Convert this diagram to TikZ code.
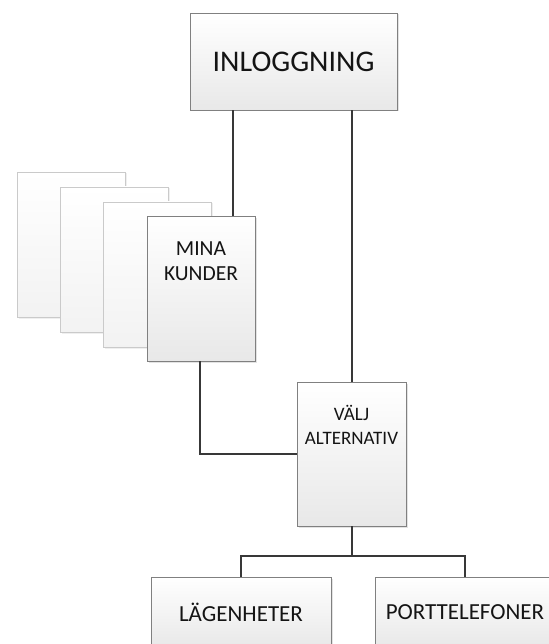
\documentclass[tikz,border=0pt]{standalone}
\usepackage{fontspec}
\setmainfont{Carlito}
\usepackage{tikz}
\usetikzlibrary{positioning,shadows}
\definecolor{rim}{HTML}{808080}
\definecolor{paperrim}{HTML}{CACACA}
\definecolor{wire}{HTML}{383838}
\definecolor{ink}{HTML}{141414}

\begin{document}
\begin{tikzpicture}[x=1pt,y=-1pt,
  card/.style={rectangle,draw=rim,line width=.9pt,top color=white,bottom color=black!9,text=ink,align=center,inner sep=0pt,drop shadow={shadow xshift=1.5pt,shadow yshift=-1.5pt,fill=black!22}},
  sheet/.style={rectangle,draw=paperrim,line width=.8pt,top color=white,bottom color=black!5,inner sep=0pt,minimum width=108pt,minimum height=145pt,drop shadow={shadow xshift=1.5pt,shadow yshift=-1.5pt,fill=black!12}},
  wire/.style={draw=wire,line width=2pt}]
				\useasboundingbox (0,0) rectangle (548,644);
				\node[card,minimum width=207pt,minimum height=97pt,font=\fontsize{30}{36}\selectfont] (login) at (293.5,61.5) {INLOGGNING};
				\foreach \i/\x/\y in {1/71/244.5,2/114/259.5,3/157.5/274.5}
					\node[sheet] (page\i) at (\x,\y) {};
				\node[card,minimum width=108pt,minimum height=145pt,label={[yshift=27pt,align=center,text=ink,font=\fontsize{21.5}{25}\selectfont]center:MINA\\KUNDER}] (kunder) at (201,288.5) {};
				\node[card,minimum width=109pt,minimum height=144pt,label={[yshift=29pt,align=center,text=ink,font=\fontsize{19}{24}\selectfont]center:VÄLJ\\ALTERNATIV}] (valj) at (351.5,454) {};
				\node[card,minimum width=180pt,minimum height=70pt,font=\fontsize{23}{27}\selectfont] (lagen) at (241,612) {LÄGENHETER};
				\node[card,minimum width=180pt,minimum height=70pt,font=\fontsize{23}{27}\selectfont] (porttel) at (465,612) {PORTTELEFONER};
				\draw[wire] ([xshift=32pt]kunder.north) -- ([xshift=32pt]kunder.north |- login.south);
				\draw[wire] (valj.north) -- (valj.north |- login.south);
				\draw[wire] ([xshift=-1pt]kunder.south) |- (valj.west);
				\draw[wire] (valj.south) -- ++(0,30) coordinate (fork) -| (lagen.north);
				\draw[wire] (fork) -| (porttel.north);
			\end{tikzpicture}
\end{document}
